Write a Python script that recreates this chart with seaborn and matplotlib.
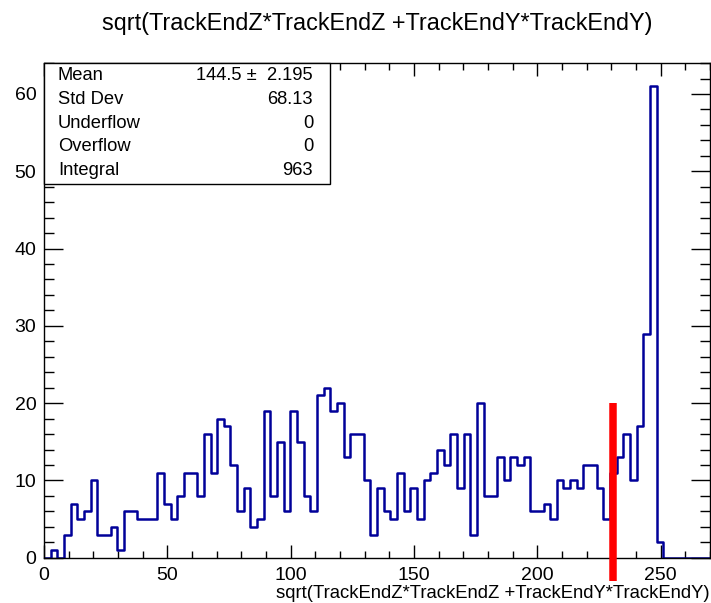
import numpy as np
import pandas as pd
import matplotlib
matplotlib.use("Agg")
import matplotlib.pyplot as plt
from matplotlib.ticker import MultipleLocator
from matplotlib.patches import Rectangle
import seaborn as sns

# ---- data ----
title = "sqrt(TrackEndZ*TrackEndZ +TrackEndY*TrackEndY)"
x_label = "sqrt(TrackEndZ*TrackEndZ +TrackEndY*TrackEndY)"
x_min, x_max, n_bins = 0.0, 270.0, 100
counts = [0, 1, 0, 3, 7, 5, 6, 10, 3, 3,
          4, 1, 6, 6, 5, 5, 5, 11, 7, 5,
          8, 11, 11, 8, 16, 11, 18, 17, 12, 6,
          9, 4, 5, 19, 8, 15, 6, 19, 15, 8,
          6, 21, 22, 19, 20, 13, 16, 16, 10, 3,
          9, 6, 5, 11, 6, 9, 5, 10, 11, 14,
          12, 16, 9, 16, 3, 20, 8, 8, 13, 10,
          13, 12, 13, 6, 6, 7, 5, 10, 9, 10,
          9, 12, 12, 9, 5, 11, 13, 16, 10, 17,
          29, 61, 2, 0, 0, 0, 0, 0, 0, 0]
stat_names = ["Mean", "Std Dev", "Underflow", "Overflow", "Integral"]
stat_values = ["144.5 \u00b1  2.195", "68.13", "0", "0", "963"]
cut_x = 230.5
cut_low, cut_high = -3.0, 20.0
x_ticks_major, x_ticks_minor = 50, 10
y_ticks_major, y_ticks_minor = 10, 2

# ---- style ----
sns.set_style("ticks")
plt.rcParams["font.family"] = ["Liberation Sans", "DejaVu Sans"]
plt.rcParams["text.color"] = "black"
plt.rcParams["xtick.labelcolor"] = "black"
plt.rcParams["ytick.labelcolor"] = "black"

bin_w = (x_max - x_min) / n_bins
centers = x_min + bin_w * (np.arange(n_bins) + 0.5)
df = pd.DataFrame({"x": centers, "w": np.asarray(counts, dtype=float)})

W, H = 711, 603
fig = plt.figure(figsize=(W / 100, H / 100), dpi=100)
fig.patch.set_facecolor("white")
left_px, right_px, top_px, bot_px = 44, 710, 62.7, 557.7
ax = fig.add_axes([left_px / W, 1 - bot_px / H, (right_px - left_px) / W, (bot_px - top_px) / H])

sns.histplot(data=df, x="x", weights="w", bins=n_bins, binrange=(x_min, x_max),
             element="step", fill=False, color="#000099", linewidth=1.8, ax=ax)

ax.set_xlim(x_min, x_max)
ax.set_ylim(0, max(counts) * 1.05)
ax.set_xlabel("")
ax.set_ylabel("")

ax.xaxis.set_major_locator(MultipleLocator(x_ticks_major))
ax.xaxis.set_minor_locator(MultipleLocator(x_ticks_minor))
ax.yaxis.set_major_locator(MultipleLocator(y_ticks_major))
ax.yaxis.set_minor_locator(MultipleLocator(y_ticks_minor))
ax.tick_params(axis="both", which="both", direction="in", top=True, right=True,
               color="black", labelcolor="black", width=1.0, labelsize=14)
ax.tick_params(axis="x", which="major", length=9.6, pad=6.5)
ax.tick_params(axis="x", which="minor", length=4.8)
ax.tick_params(axis="y", which="major", length=13.5, pad=5.5)
ax.tick_params(axis="y", which="minor", length=7)
for s in ax.spines.values():
    s.set_color("black")
    s.set_linewidth(1.0)
    s.set_visible(True)

# red cut line
ax.plot([cut_x, cut_x], [cut_low, cut_high], color="#ff0000", lw=5.4,
        solid_capstyle="butt", clip_on=False, zorder=5)

# title and axis label
fig.text(377.5 / W, 1 - 30 / H, title, ha="center", va="baseline", fontsize=16.8, color="black")
fig.text(right_px / W, 1 - 594 / H, x_label, ha="right", va="center", fontsize=13.3, color="black")

# stats box
bx0, bx1, by0, by1 = 44, 330, 62.7, 184
fig.add_artist(Rectangle((bx0 / W, 1 - by1 / H), (bx1 - bx0) / W, (by1 - by0) / H,
                         transform=fig.transFigure, facecolor="white",
                         edgecolor="black", linewidth=1.0, zorder=10))
row_y = [75, 99.5, 123, 146.5, 170]
for name, val, yy in zip(stat_names, stat_values, row_y):
    fig.text(58 / W, 1 - yy / H, name, ha="left", va="center", fontsize=13.2, zorder=11, color="black")
    fig.text(313 / W, 1 - yy / H, val, ha="right", va="center", fontsize=13.2, zorder=11, color="black")

fig.savefig("out.png", dpi=100)
